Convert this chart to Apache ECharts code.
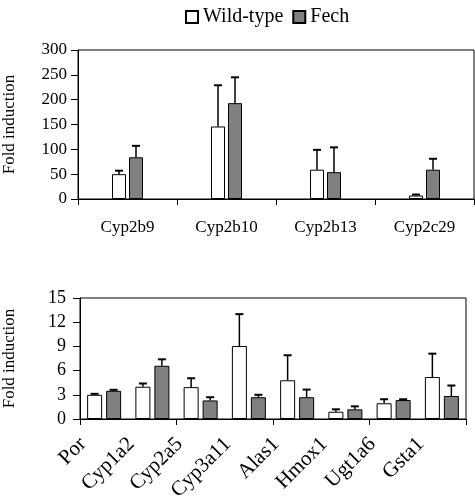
<!DOCTYPE html>
<html><head><meta charset="utf-8">
<script src="https://cdn.jsdelivr.net/npm/echarts@6/dist/echarts.min.js"></script>
<style>html,body{margin:0;padding:0;background:#fff}#c{width:475px;height:501px}</style>
</head><body><div id="c"></div>
<script>
// ---- data ----
const seriesNames = ['Wild-type', 'Fech'];
const topCats = ['Cyp2b9', 'Cyp2b10', 'Cyp2b13', 'Cyp2c29'];
const topWT = [50, 146, 59, 7];
const topWTErr = [7, 83, 40, 2];
const topFech = [84, 193, 54, 59];
const topFechErr = [23, 52, 50, 22];
const topTicks = [0, 50, 100, 150, 200, 250, 300];

const botCats = ['Por', 'Cyp1a2', 'Cyp2a5', 'Cyp3a11', 'Alas1', 'Hmox1', 'Ugt1a6', 'Gsta1'];
const botWT = [3.0, 4.0, 3.95, 9.05, 4.8, 0.9, 1.95, 5.2];
const botWTErr = [0.12, 0.4, 1.1, 3.95, 3.1, 0.3, 0.5, 2.9];
const botFech = [3.5, 6.6, 2.3, 2.7, 2.7, 1.2, 2.35, 2.85];
const botFechErr = [0.12, 0.8, 0.4, 0.3, 0.95, 0.37, 0.1, 1.3];
const botTicks = [0, 3, 6, 9, 12, 15];

// ---- style ----
const FONT = 'Liberation Serif';
const GRAY = '#808080';
const TOP_BAR = 14, TOP_GAP = 3, BOT_BAR = 15, BOT_GAP = 4;

function errRender(offset) {
  return function (params, api) {
    const c = api.value(0), v = api.value(1), e = api.value(2);
    const p0 = api.coord([c, v]);
    const p1 = api.coord([c, v + e]);
    const x = p0[0] + offset;
    return {
      type: 'group',
      children: [
        { type: 'line', shape: { x1: x, y1: p0[1], x2: x, y2: p1[1] }, style: { stroke: '#000', lineWidth: 1.5 } },
        { type: 'line', shape: { x1: x - 4, y1: p1[1], x2: x + 4, y2: p1[1] }, style: { stroke: '#000', lineWidth: 2 } }
      ]
    };
  };
}
function errData(vals, errs) { return vals.map((v, i) => [i, v, errs[i]]); }

const axisLineStyle = { show: true, lineStyle: { color: '#000', width: 1 } };
const tickStyle = { show: true, length: 7, lineStyle: { color: '#000', width: 1 } };

const chart = echarts.init(document.getElementById('c'), null, { renderer: 'canvas' });
chart.setOption({
  animation: false,
  backgroundColor: '#fff',
  textStyle: { fontFamily: FONT, color: '#000' },
  legend: {
    data: seriesNames,
    left: 180, top: 2,
    itemWidth: 12, itemHeight: 12, itemGap: 9,
    icon: 'rect',
    textStyle: { fontFamily: FONT, fontSize: 20, color: '#000' }
  },
  grid: [
    { left: 78, top: 50, width: 396, height: 149, show: true, borderColor: '#000', borderWidth: 1, outerBoundsMode: 'none', containLabel: false },
    { left: 80, top: 298, width: 386, height: 121, show: true, borderColor: '#000', borderWidth: 1, outerBoundsMode: 'none', containLabel: false },
    { left: 83, top: 298, width: 386, height: 121, show: false, outerBoundsMode: 'none', containLabel: false }
  ],
  xAxis: [
    { type: 'category', gridIndex: 0, data: topCats, axisLine: axisLineStyle,
      axisTick: { show: true, length: 6, lineStyle: { color: '#000' } },
      axisLabel: { fontFamily: FONT, fontSize: 17, color: '#000', margin: 20 } },
    { type: 'category', gridIndex: 1, data: botCats, axisLine: axisLineStyle,
      axisTick: { show: true, length: 6, lineStyle: { color: '#000' } },
      axisLabel: { show: false } },
    { type: 'value', gridIndex: 2, min: 0, max: 8, interval: 1,
      axisLine: { show: false }, axisTick: { show: false }, splitLine: { show: false },
      axisLabel: { rotate: 45, margin: 22, fontFamily: FONT, fontSize: 21, color: '#000',
        formatter: v => botCats[v] || '' } }
  ],
  yAxis: [
    { type: 'value', gridIndex: 0, min: topTicks[0], max: topTicks[topTicks.length - 1], interval: 50,
      axisLine: axisLineStyle, axisTick: tickStyle, splitLine: { show: false },
      axisLabel: { fontFamily: FONT, fontSize: 17, color: '#000', margin: 11 },
      name: 'Fold induction', nameLocation: 'middle', nameGap: 60,
      nameTextStyle: { fontFamily: FONT, fontSize: 17, color: '#000' } },
    { type: 'value', gridIndex: 1, min: botTicks[0], max: botTicks[botTicks.length - 1], interval: 3,
      axisLine: axisLineStyle, axisTick: tickStyle, splitLine: { show: false },
      axisLabel: { fontFamily: FONT, fontSize: 18, color: '#000', margin: 14 },
      name: 'Fold induction', nameLocation: 'middle', nameGap: 62,
      nameTextStyle: { fontFamily: FONT, fontSize: 17, color: '#000' } },
    { type: 'value', gridIndex: 2, show: false, min: 0, max: 15 }
  ],
  series: [
    { name: seriesNames[0], type: 'bar', xAxisIndex: 0, yAxisIndex: 0, data: topWT,
      barWidth: TOP_BAR, barGap: (TOP_GAP / TOP_BAR * 100) + '%',
      itemStyle: { color: '#fff', borderColor: '#000', borderWidth: 1 } },
    { name: seriesNames[1], type: 'bar', xAxisIndex: 0, yAxisIndex: 0, data: topFech,
      barWidth: TOP_BAR, barGap: (TOP_GAP / TOP_BAR * 100) + '%',
      itemStyle: { color: GRAY, borderColor: '#000', borderWidth: 1 } },
    { name: seriesNames[0], type: 'bar', xAxisIndex: 1, yAxisIndex: 1, data: botWT,
      barWidth: BOT_BAR, barGap: (BOT_GAP / BOT_BAR * 100) + '%',
      itemStyle: { color: '#fff', borderColor: '#000', borderWidth: 1 } },
    { name: seriesNames[1], type: 'bar', xAxisIndex: 1, yAxisIndex: 1, data: botFech,
      barWidth: BOT_BAR, barGap: (BOT_GAP / BOT_BAR * 100) + '%',
      itemStyle: { color: GRAY, borderColor: '#000', borderWidth: 1 } },
    { type: 'custom', xAxisIndex: 0, yAxisIndex: 0, z: 5, encode: { x: 0, y: 1 },
      renderItem: errRender(-(TOP_BAR + TOP_GAP) / 2), data: errData(topWT, topWTErr) },
    { type: 'custom', xAxisIndex: 0, yAxisIndex: 0, z: 5, encode: { x: 0, y: 1 },
      renderItem: errRender((TOP_BAR + TOP_GAP) / 2), data: errData(topFech, topFechErr) },
    { type: 'custom', xAxisIndex: 1, yAxisIndex: 1, z: 5, encode: { x: 0, y: 1 },
      renderItem: errRender(-(BOT_BAR + BOT_GAP) / 2), data: errData(botWT, botWTErr) },
    { type: 'custom', xAxisIndex: 1, yAxisIndex: 1, z: 5, encode: { x: 0, y: 1 },
      renderItem: errRender((BOT_BAR + BOT_GAP) / 2), data: errData(botFech, botFechErr) }
  ]
});
</script>
</body></html>
